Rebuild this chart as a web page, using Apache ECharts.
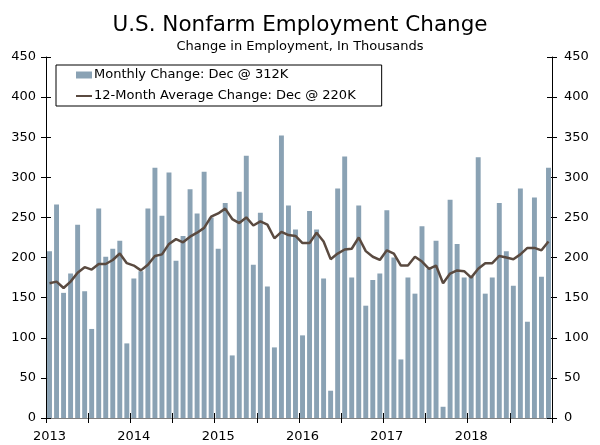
<!DOCTYPE html>
<html>
<head>
<meta charset="utf-8">
<script src="https://cdn.jsdelivr.net/npm/echarts@6/dist/echarts.min.js"></script>
<style>
  html, body { margin: 0; padding: 0; background: #fff; }
  #chart { width: 600px; height: 445px; }
</style>
</head>
<body>
<div id="chart"></div>
<script>
// years shown on the x axis, one bar per month
const years = ['2013', '2014', '2015', '2016', '2017', '2018'];

// monthly change in nonfarm employment (thousands)
const monthlyChange = [
  208, 266, 156, 180, 241, 158, 111, 261, 201, 211, 221, 93,   // 2013
  174, 183, 261, 312, 252, 306, 196, 227, 285, 255, 307, 250,  // 2014
  211, 268, 78, 282, 327, 191, 256, 164, 88, 352, 265, 235,    // 2015
  103, 258, 235, 174, 34, 286, 326, 175, 265, 140, 172, 180,   // 2016
  259, 200, 73, 175, 155, 239, 186, 221, 14, 272, 217, 175,    // 2017
  176, 325, 155, 175, 268, 208, 165, 286, 120, 275, 176, 312   // 2018
];

// 12-month average change (thousands)
const avgChange = [
  168, 170, 162, 170, 181, 188, 185, 192, 192, 197, 205, 193,
  190, 184, 191, 202, 204, 217, 223, 219, 226, 231, 237, 251,
  255, 261, 248, 243, 250, 240, 245, 241, 224, 232, 228, 227,
  218, 218, 231, 220, 198, 205, 210, 211, 225, 208, 201, 197,
  209, 205, 190, 190, 201, 195, 186, 190, 168, 180, 184, 183,
  175, 186, 193, 193, 202, 200, 198, 204, 212, 212, 209, 220
];

const months = [];
years.forEach(y => {
  for (let m = 1; m <= 12; m++) months.push(y + '-' + (m < 10 ? '0' + m : m));
});

const font = 'DejaVu Sans, Verdana, sans-serif';
const chart = echarts.init(document.getElementById('chart'));

// y axes: the "inside" copies give the ticks that cross the axis line
function yAx(pos, inside, labels) {
  return {
    type: 'value', position: pos, min: 0, max: 450, interval: 50,
    axisLine: { show: !inside, lineStyle: { color: '#000', width: 1 } },
    axisTick: { show: true, inside: inside, length: 5, lineStyle: { color: '#000' } },
    axisLabel: {
      show: labels, color: '#000', fontSize: 13, fontFamily: font,
      margin: pos === 'left' ? 10 : 12
    },
    splitLine: { show: false }
  };
}

function xAx(pos, inside, labels) {
  return {
    type: 'category', data: months, position: pos, boundaryGap: true,
    axisLine: { show: pos === 'top' || !inside, lineStyle: { color: pos === 'top' ? '#808080' : '#000' } },
    axisTick: { show: pos !== 'top', inside: inside, interval: 5, length: 5, lineStyle: { color: '#000' } },
    axisLabel: {
      show: labels, interval: 11, color: '#000', fontSize: 13, fontFamily: font, margin: 12,
      formatter: v => v.slice(0, 4)
    },
    splitLine: { show: false }
  };
}

const option = {
  backgroundColor: '#fff',
  animation: false,
  title: [
    {
      text: 'U.S. Nonfarm Employment Change', left: 'center', top: 8,
      textStyle: { fontSize: 21.5, fontWeight: 'normal', color: '#000', fontFamily: font, lineHeight: 24 }
    },
    {
      text: 'Change in Employment, In Thousands', left: 'center', top: 35,
      textStyle: { fontSize: 13, fontWeight: 'normal', color: '#000', fontFamily: font, lineHeight: 14 }
    }
  ],
  legend: {
    orient: 'vertical', left: 56, top: 65,
    borderColor: '#000', borderWidth: 1, borderRadius: 0,
    padding: [3, 26, 3, 20],
    itemWidth: 16, itemHeight: 7, itemGap: 7,
    textStyle: { fontSize: 13, color: '#000', fontFamily: font, lineHeight: 14, padding: [0, 0, 0, -3] },
    data: [
      { name: 'Monthly Change: Dec @ 312K', icon: 'rect' },
      { name: '12-Month Average Change: Dec @ 220K', icon: 'path://M0,0L24,0L24,3L0,3Z' }
    ]
  },
  grid: { left: 46, right: 48, top: 57, bottom: 27 },
  xAxis: [xAx('bottom', false, true), xAx('bottom', true, false), xAx('top', true, false)],
  yAxis: [yAx('left', false, true), yAx('left', true, false), yAx('right', false, true), yAx('right', true, false)],
  series: [
    {
      name: 'Monthly Change: Dec @ 312K', type: 'bar',
      data: monthlyChange, barCategoryGap: '30%',
      itemStyle: { color: '#8AA2B4' }
    },
    {
      name: '12-Month Average Change: Dec @ 220K', type: 'line',
      data: avgChange, symbol: 'none', z: 5,
      lineStyle: { color: '#5A4A40', width: 2.5 },
      itemStyle: { color: '#5A4A40' }
    }
  ]
};

chart.setOption(option);
</script>
</body>
</html>
